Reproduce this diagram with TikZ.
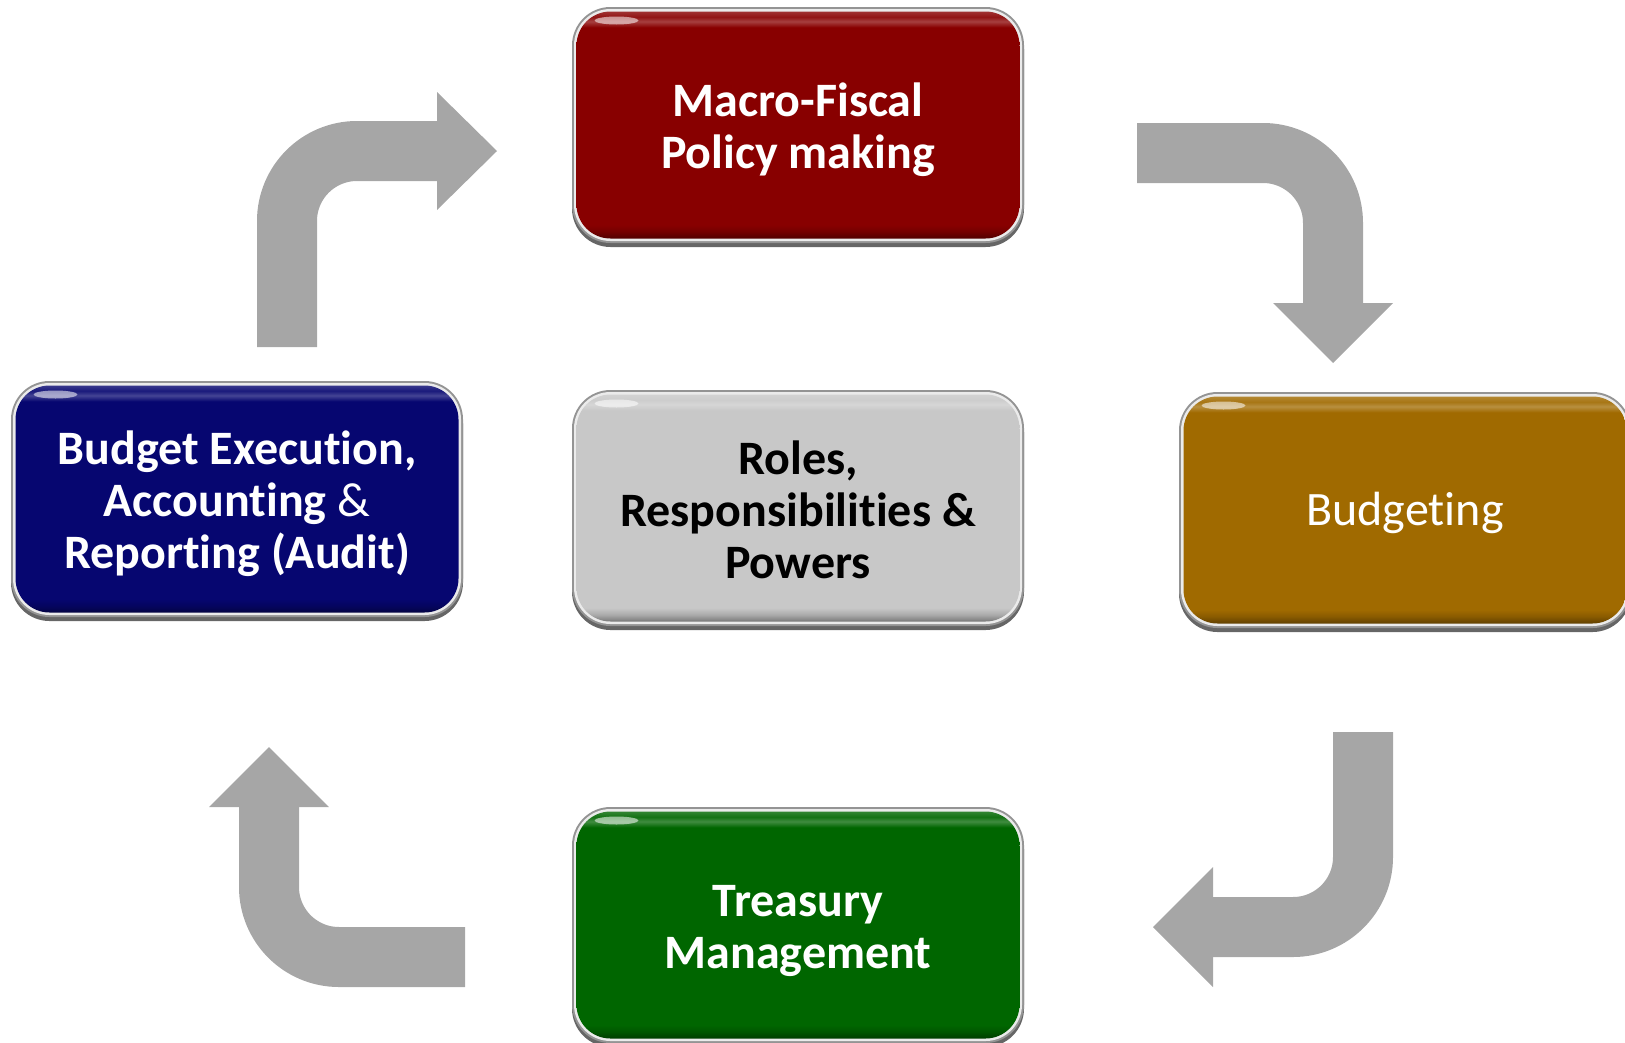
\documentclass[tikz,border=0pt]{standalone}
\usepackage{fontspec}
\setmainfont{Carlito}[Ligatures={NoCommon}]
\usetikzlibrary{calc}
\definecolor{arrowgray}{RGB}{166,166,166}
\definecolor{fiscalred}{RGB}{136,0,0}
\definecolor{budgold}{RGB}{160,106,0}
\definecolor{execblue}{RGB}{6,6,112}
\definecolor{rolegray}{RGB}{200,200,200}
\definecolor{treasgreen}{RGB}{0,102,0}
\colorlet{boxcol}{gray}
\pgfdeclareverticalshading[boxcol]{glossy}{100bp}{%
  color(0bp)=(boxcol!60!black); color(25bp)=(boxcol!60!black);
  color(26.5bp)=(boxcol!85!black); color(28bp)=(boxcol);
  color(71.5bp)=(boxcol); color(72.8bp)=(boxcol!75!white);
  color(73.8bp)=(boxcol!92!white); color(75bp)=(boxcol!80!white);
  color(100bp)=(boxcol!80!white)}
\begin{document}
\begin{tikzpicture}[x=1pt,y=-1pt,
  glossbox/.style={rectangle, rounded corners=34pt, minimum width=443pt,
    minimum height=227pt, inner sep=0pt,
    /utils/exec={\colorlet{boxcol}{#1}}, shading=glossy,
    preaction={fill=black!60, draw=black!60, line width=9pt,
      transform canvas={yshift=-4pt}},
    preaction={draw=black!42, line width=9pt},
    preaction={draw=black!8, line width=5pt},
    path picture={\fill[white,opacity=0.55]
      ($(path picture bounding box.north west)+(40,9)$)
      ellipse[x radius=22pt, y radius=4pt];}},
  boxtext/.style={align=center, inner sep=0pt, text=white,
    font=\fontsize{48}{52}\selectfont\bfseries},
  bentarrow/.style={draw=arrowgray, line width=60pt, rounded corners=70pt,
    line cap=butt, line join=miter},
  tiphead/.style={fill=arrowgray}]
\path[use as bounding box] (0,0) rectangle (1625,1042);
\clip (0,0) rectangle (1625,1042);

% boxes
\node[glossbox=fiscalred] (macro) at (798,125) {};
\node[glossbox=rolegray] (roles) at (798,508) {};
\node[glossbox=treasgreen] (treasury) at (798,925) {};
\node[glossbox=execblue] (exec) at (237,499) {};
\node[glossbox=budgold] (budget) at (1405,510) {};

% texts
\node[boxtext] (macrotext) at ($(macro.center)+(0,5)$)
  {Macro-Fiscal\\Policy making};
\node[boxtext, text=black] (rolestext) at ($(roles.center)+(0,2)$)
  {Roles,\\Responsibilities \&\\Powers};
\node[boxtext] (treasurytext) at ($(treasury.center)+(0,6)$)
  {Treasury\\Management};
\node[boxtext] (exectext) at ($(exec.center)+(0,5)$)
  {Budget Execution,\\Accounting {\mdseries\&}\\Reporting (Audit)};
\node[boxtext, font=\fontsize{48}{52}\selectfont] (budgettext)
  at ($(budget.center)+(0,3)$) {Budgeting};

% arrow: execution -> macro-fiscal
\coordinate (a1s) at (287,347);
\coordinate (a1c) at (287,151);
\coordinate (a1b) at (437,151);
\coordinate (a1t) at (497,151);
\draw[bentarrow] (a1s) -- (a1c) -- ($(a1b)+(2,0)$);
\fill[tiphead] (a1t) -- ($(a1b)+(0,-59)$) -- ($(a1b)+(0,59)$) -- cycle;

% arrow: macro-fiscal -> budgeting
\coordinate (a2s) at (1137,153);
\coordinate (a2c) at (1333,153);
\coordinate (a2b) at (1333,303);
\coordinate (a2t) at (1333,363);
\draw[bentarrow] (a2s) -- (a2c) -- ($(a2b)+(0,2)$);
\fill[tiphead] (a2t) -- ($(a2b)+(-60,0)$) -- ($(a2b)+(60,0)$) -- cycle;

% arrow: budgeting -> treasury
\coordinate (a3s) at (1363,732);
\coordinate (a3c) at (1363,927);
\coordinate (a3b) at (1213,927);
\coordinate (a3t) at (1153,927);
\draw[bentarrow] (a3s) -- (a3c) -- ($(a3b)+(-2,0)$);
\fill[tiphead] (a3t) -- ($(a3b)+(0,-60)$) -- ($(a3b)+(0,60)$) -- cycle;

% arrow: treasury -> execution
\coordinate (a4s) at (465,957);
\coordinate (a4c) at (269,957);
\coordinate (a4b) at (269,807);
\coordinate (a4t) at (269,747);
\draw[bentarrow] (a4s) -- (a4c) -- ($(a4b)+(0,-2)$);
\fill[tiphead] (a4t) -- ($(a4b)+(-60,0)$) -- ($(a4b)+(60,0)$) -- cycle;
\end{tikzpicture}
\end{document}
